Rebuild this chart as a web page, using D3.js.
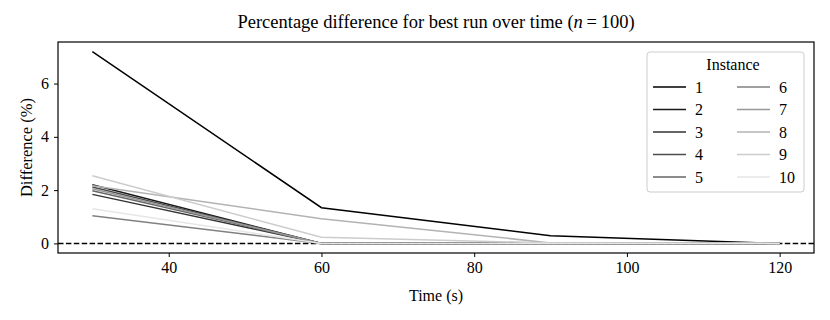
<!DOCTYPE html>
<html>
<head>
<meta charset="utf-8">
<script src="https://cdn.jsdelivr.net/npm/d3@7"></script>
<style>
  body { margin: 0; background: #fff; }
  svg text { font-family: "Liberation Serif", "DejaVu Serif", serif; }
</style>
</head>
<body>
<svg id="chart" width="830" height="320"></svg>
<script>
// time points (s)
var times = [30, 60, 90, 120];

// percentage difference per instance
var inst1 = [7.2, 1.34, 0.29, 0];
var inst2 = [2.2, 0, 0, 0];
var inst3 = [1.84, 0, 0, 0];
var inst4 = [2.12, 0, 0, 0];
var inst5 = [1.98, 0, 0, 0];
var inst6 = [1.04, 0, 0, 0];
var inst7 = [2.05, 0, 0, 0];
var inst8 = [2.16, 0.93, 0.02, 0];
var inst9 = [2.54, 0.23, 0.02, 0];
var inst10 = [1.3, 0, 0, 0];

var names = ["1", "2", "3", "4", "5", "6", "7", "8", "9", "10"];
var greys = [0, 0.1, 0.2, 0.3, 0.4, 0.5, 0.6, 0.7, 0.8, 0.9];

var xTicks = [40, 60, 80, 100, 120];
var yTicks = [0, 2, 4, 6];

var series = [inst1, inst2, inst3, inst4, inst5, inst6, inst7, inst8, inst9, inst10];

function grey(v) { return d3.rgb(v * 255, v * 255, v * 255); }

var svg = d3.select("#chart");
var margin = {left: 58, right: 16, top: 42, bottom: 67};
var width = 830 - margin.left - margin.right;
var height = 320 - margin.top - margin.bottom;

var x = d3.scaleLinear().domain([25.5, 124.5]).range([0, width]);
var y = d3.scaleLinear().domain([-0.36, 7.56]).range([height, 0]);

var g = svg.append("g")
    .attr("transform", "translate(" + margin.left + "," + margin.top + ")");

var line = d3.line()
    .x(function(d, i) { return x(times[i]); })
    .y(function(d) { return y(d); });

g.append("defs").append("clipPath").attr("id", "clip")
    .append("rect").attr("width", width).attr("height", height);

var lines = g.append("g").attr("clip-path", "url(#clip)");

// zero reference line
lines.append("line")
    .attr("x1", 0).attr("x2", width)
    .attr("y1", y(0)).attr("y2", y(0))
    .attr("stroke", "#000")
    .attr("stroke-width", 1.5)
    .attr("stroke-dasharray", "5.5,2.4");

series.forEach(function(s, i) {
    lines.append("path")
        .datum(s)
        .attr("fill", "none")
        .attr("stroke", grey(greys[i]))
        .attr("stroke-width", 1.5)
        .attr("d", line);
});

// axes
var xAxis = g.append("g")
    .attr("transform", "translate(0," + height + ")")
    .call(d3.axisBottom(x).tickValues(xTicks).tickSize(4).tickPadding(5));
var yAxis = g.append("g")
    .call(d3.axisLeft(y).tickValues(yTicks).tickSize(4).tickPadding(5));

[xAxis, yAxis].forEach(function(a) {
    a.select(".domain").remove();
    a.selectAll("text").attr("font-size", 16).attr("fill", "#000");
    a.selectAll("line").attr("stroke", "#000").attr("stroke-width", 1);
});

g.append("rect")
    .attr("width", width).attr("height", height)
    .attr("fill", "none").attr("stroke", "#000").attr("stroke-width", 1.2);

// labels
svg.append("text")
    .attr("x", margin.left + width / 2).attr("y", 301)
    .attr("text-anchor", "middle").attr("font-size", 16)
    .text("Time (s)");

svg.append("text")
    .attr("transform", "translate(32," + (margin.top + height / 2) + ") rotate(-90)")
    .attr("text-anchor", "middle").attr("font-size", 16.5)
    .text("Difference (%)");

var title = svg.append("text")
    .attr("x", margin.left + width / 2).attr("y", 28)
    .attr("text-anchor", "middle").attr("font-size", 18.5);
title.append("tspan").text("Percentage difference for best run over time (");
title.append("tspan").attr("font-style", "italic").text("n");
title.append("tspan").text("\u2009=\u2009100)");

// legend
var lg = svg.append("g").attr("transform", "translate(647,52)");
lg.append("rect")
    .attr("width", 157).attr("height", 140).attr("rx", 3)
    .attr("fill", "#fff").attr("fill-opacity", 0.8)
    .attr("stroke", "#ccc").attr("stroke-width", 1);
lg.append("text")
    .attr("x", 86).attr("y", 18)
    .attr("text-anchor", "middle").attr("font-size", 16)
    .text("Instance");

names.forEach(function(n, i) {
    var col = Math.floor(i / 5), row = i % 5;
    var ox = 6 + col * 84, oy = 35 + row * 22.5;
    lg.append("line")
        .attr("x1", ox).attr("x2", ox + 33)
        .attr("y1", oy).attr("y2", oy)
        .attr("stroke", grey(greys[i]))
        .attr("stroke-width", 1.5);
    lg.append("text")
        .attr("x", ox + 42).attr("y", oy + 5.5)
        .attr("font-size", 16)
        .text(n);
});
</script>
</body>
</html>
